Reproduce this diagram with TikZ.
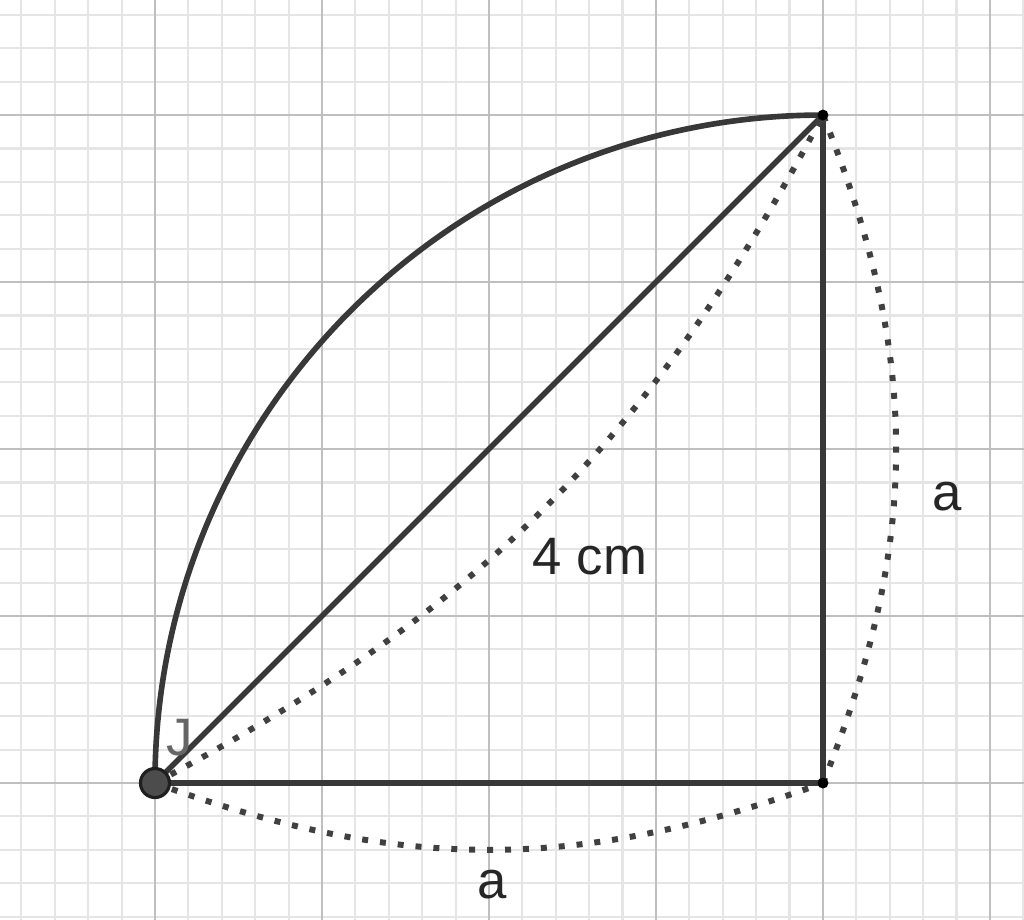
\documentclass[tikz,border=0pt]{standalone}
\usepackage{fontspec}
\setmainfont{Liberation Sans}
\begin{document}
\begin{tikzpicture}[x=1.67cm,y=1.67cm,
  minorgrid/.style={draw=black!10, line width=0.6pt},
  majorgrid/.style={draw=black!25, line width=0.8pt},
  solidline/.style={draw=black!78, line width=1.6pt},
  dotline/.style={draw=black!75, line width=1.7pt, dash pattern=on 1.7pt off 3.4pt},
  lbl/.style={font=\fontsize{15}{18}\selectfont, text=black!85, inner sep=0pt},
  bigpt/.style={circle, fill=black!70, draw=black!88, line width=0.9pt, minimum size=0.29cm, inner sep=0pt},
  smallpt/.style={circle, fill=black, inner sep=0pt, minimum size=0.11cm}]
\useasboundingbox (-0.928,-0.820) rectangle (5.204,4.689);
\fill[white] (-0.928,-0.820) rectangle (5.204,4.689);
\begin{scope}
\clip (-0.928,-0.820) rectangle (5.204,4.689);
\draw[minorgrid, step=0.2] (-1.2,-1.2) grid (5.4,4.8);
\draw[majorgrid, step=1] (-1.2,-1.2) grid (5.4,4.8);
\end{scope}
\coordinate (J) at (0,0);
\coordinate (B) at (4,0);
\coordinate (C) at (4,4);
% solid arc and triangle
\draw[solidline] (J) arc[start angle=180, end angle=90, radius=4];
\draw[solidline] (J) -- (C);
\draw[solidline] (J) -- (B);
\draw[solidline] (B) -- (C);
% dotted arcs
\draw[dotline] (J) to[bend right=17] (C);
\draw[dotline] (J) to[bend right=20] (B);
\draw[dotline] (B) to[bend right=22] (C);
% points
\node[smallpt] (Bp) at (B) {};
\node[smallpt] (Cp) at (C) {};
\node[bigpt] (Jp) at (J) {};
% labels
\node[lbl, text=black!60] (Jl) at (0.15,0.27) {J};
\node[lbl] (len) at (2.605,1.353) {4 cm};
\node[lbl] (ar) at (4.743,1.713) {a};
\node[lbl] (ab) at (2.018,-0.611) {a};
\end{tikzpicture}
\end{document}
